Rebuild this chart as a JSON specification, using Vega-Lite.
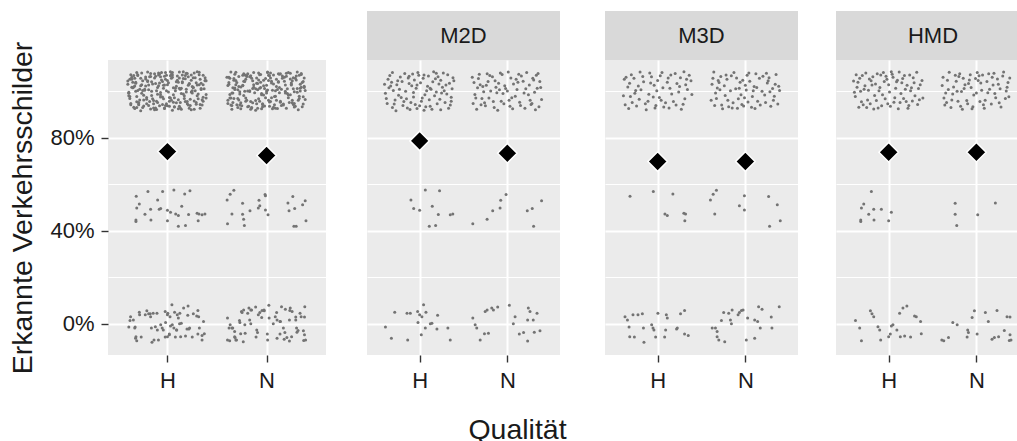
{
  "$schema": "https://vega.github.io/schema/vega-lite/v6.json",
  "background": "white",
  "padding": {"left": 8, "top": 11, "right": 0, "bottom": 0},
  "spacing": 41,
  "config": {
    "font": "Liberation Sans",
    "view": {"stroke": null},
    "concat": {"spacing": 0},
    "axis": {
      "domain": false,
      "tickColor": "#333333",
      "tickSize": 7,
      "tickWidth": 1.4,
      "labelFont": "Liberation Sans",
      "labelFontSize": 22,
      "labelColor": "#1A1A1A",
      "labelPadding": 8,
      "gridColor": "#FFFFFF",
      "gridOpacity": 1,
      "titleFont": "Liberation Sans",
      "titleFontSize": 28.5,
      "titleFontWeight": "normal",
      "titleColor": "#1A1A1A",
      "minExtent": 0
    }
  },
  "datasets": {
    "M2D": [
      {"x":0.64,"y":1.052},{"x":1.17,"y":0.981},{"x":0.88,"y":1.034},{"x":1.33,"y":0.927},{"x":0.72,"y":0.963},{"x":1.05,"y":1.071},{"x":0.95,"y":0.944},{"x":1.26,"y":1.018},{"x":0.61,"y":0.992},{"x":1.39,"y":1.046},
      {"x":0.83,"y":1.077},{"x":1.12,"y":0.936},{"x":0.77,"y":1.009},{"x":1.02,"y":0.958},{"x":1.21,"y":1.063},{"x":0.69,"y":0.931},{"x":0.91,"y":1.024},{"x":1.36,"y":0.975},{"x":0.98,"y":1.081},{"x":1.08,"y":1.003},
      {"x":0.66,"y":1.068},{"x":1.29,"y":0.952},{"x":0.85,"y":0.968},{"x":1.15,"y":1.041},{"x":0.74,"y":1.029},{"x":1.24,"y":0.921},{"x":0.93,"y":0.995},{"x":1.04,"y":1.056},{"x":0.63,"y":0.948},{"x":1.32,"y":1.072},
      {"x":0.81,"y":0.939},{"x":1.19,"y":0.997},{"x":0.97,"y":0.926},{"x":1.1,"y":1.066},{"x":0.7,"y":1.004},{"x":1.37,"y":1.011},{"x":0.87,"y":1.058},{"x":1.23,"y":0.966},{"x":0.79,"y":0.974},{"x":1.01,"y":1.037},
      {"x":1.14,"y":0.923},{"x":0.67,"y":1.023},{"x":1.31,"y":0.989},{"x":0.9,"y":0.952},{"x":1.06,"y":0.985},{"x":0.75,"y":1.046},{"x":1.27,"y":1.079},{"x":0.96,"y":1.013},{"x":1.18,"y":1.054},{"x":0.62,"y":0.969},
      {"x":1.35,"y":0.941},{"x":0.84,"y":1.001},{"x":1.11,"y":0.964},{"x":0.73,"y":0.917},{"x":1.22,"y":1.032},{"x":0.99,"y":1.069},{"x":1.07,"y":0.934},{"x":0.68,"y":1.039},{"x":1.3,"y":1.027},{"x":0.89,"y":0.922},
      {"x":1.16,"y":1.084},{"x":0.78,"y":1.062},{"x":1.25,"y":0.993},{"x":0.94,"y":1.049},{"x":1.03,"y":0.971},{"x":0.65,"y":1.016},{"x":1.38,"y":1.059},{"x":0.82,"y":0.957},{"x":1.13,"y":1.009},{"x":0.76,"y":0.983},
      {"x":1.2,"y":0.947},{"x":0.92,"y":1.075},{"x":1.09,"y":1.022},{"x":0.71,"y":0.946},{"x":1.34,"y":1.035},{"x":0.86,"y":0.928},{"x":1.28,"y":1.003},{"x":1.0,"y":0.938},{"x":0.6,"y":1.031},{"x":1.19,"y":1.078},
      {"x":0.8,"y":1.043},{"x":1.05,"y":0.919},{"x":0.93,"y":0.976},{"x":1.24,"y":1.048},{"x":0.69,"y":1.081},{"x":1.36,"y":0.958},{"x":0.88,"y":1.065},{"x":1.12,"y":1.014},{"x":0.97,"y":1.027},
      {"x":1.63,"y":0.987},{"x":2.18,"y":1.044},{"x":1.85,"y":0.931},{"x":2.33,"y":1.069},{"x":1.72,"y":1.021},{"x":2.02,"y":0.962},{"x":1.94,"y":1.073},{"x":2.27,"y":0.944},{"x":1.67,"y":1.055},{"x":2.11,"y":1.008},
      {"x":1.79,"y":0.972},{"x":2.38,"y":1.017},{"x":1.9,"y":1.035},{"x":2.06,"y":0.925},{"x":1.61,"y":0.948},{"x":2.22,"y":1.081},{"x":1.83,"y":1.063},{"x":2.31,"y":0.996},{"x":1.75,"y":0.938},{"x":1.98,"y":1.012},
      {"x":2.14,"y":0.953},{"x":1.69,"y":1.029},{"x":2.36,"y":0.934},{"x":1.88,"y":0.994},{"x":2.04,"y":1.058},{"x":1.65,"y":0.923},{"x":2.25,"y":1.027},{"x":1.77,"y":1.076},{"x":2.09,"y":0.979},{"x":1.96,"y":0.947},
      {"x":2.3,"y":1.049},{"x":1.71,"y":0.969},{"x":2.16,"y":1.066},{"x":1.86,"y":1.046},{"x":2.01,"y":1.083},{"x":1.62,"y":1.038},{"x":2.39,"y":0.965},{"x":1.81,"y":1.002},{"x":2.2,"y":0.927},{"x":1.93,"y":0.958},
      {"x":2.07,"y":1.032},{"x":1.74,"y":0.951},{"x":2.34,"y":1.014},{"x":1.68,"y":1.074},{"x":2.12,"y":1.039},{"x":1.89,"y":0.919},{"x":2.24,"y":0.986},{"x":1.78,"y":1.042},{"x":2.0,"y":1.002},{"x":1.64,"y":0.971},
      {"x":2.29,"y":1.057},{"x":1.92,"y":1.079},{"x":2.15,"y":0.939},{"x":1.73,"y":0.998},{"x":2.37,"y":1.043},{"x":1.84,"y":0.956},{"x":2.05,"y":0.973},{"x":1.66,"y":1.016},{"x":2.21,"y":1.011},{"x":1.97,"y":1.024},
      {"x":2.32,"y":0.921},{"x":1.8,"y":1.068},{"x":2.1,"y":1.052},{"x":1.7,"y":0.942},{"x":2.26,"y":0.962},{"x":1.87,"y":1.018},{"x":2.03,"y":0.936},{"x":1.6,"y":1.061},{"x":2.19,"y":0.993},{"x":1.95,"y":0.991},
      {"x":2.35,"y":1.077},{"x":1.76,"y":1.026},{"x":2.13,"y":1.074},{"x":1.91,"y":1.007},{"x":2.28,"y":0.948},
      {"x":1.065,"y":0.576},{"x":1.227,"y":0.573},{"x":0.901,"y":0.533},{"x":0.932,"y":0.496},{"x":1.0,"y":0.489},{"x":1.144,"y":0.506},{"x":1.213,"y":0.47},{"x":1.349,"y":0.469},{"x":1.378,"y":0.473},{"x":1.11,"y":0.42},{"x":1.182,"y":0.423},
      {"x":1.606,"y":0.431},{"x":1.769,"y":0.45},{"x":1.833,"y":0.487},{"x":1.917,"y":0.498},{"x":1.924,"y":0.532},{"x":1.985,"y":0.556},{"x":2.227,"y":0.487},{"x":2.284,"y":0.496},{"x":2.39,"y":0.53},{"x":2.299,"y":0.42},
      {"x":0.61,"y":-0.014},{"x":0.678,"y":-0.062},{"x":0.716,"y":0.05},{"x":0.856,"y":0.046},{"x":0.894,"y":0.046},{"x":0.864,"y":-0.07},{"x":0.977,"y":0.053},{"x":1.0,"y":0.039},{"x":1.026,"y":0.031},{"x":1.072,"y":0.05},
      {"x":1.045,"y":0.082},{"x":0.981,"y":0.006},{"x":1.019,"y":-0.047},{"x":1.065,"y":-0.018},{"x":1.122,"y":0.0},{"x":1.14,"y":0.003},{"x":1.205,"y":0.037},{"x":1.197,"y":-0.022},{"x":1.322,"y":-0.018},{"x":1.349,"y":-0.07},
      {"x":1.606,"y":0.025},{"x":1.633,"y":-0.004},{"x":1.651,"y":-0.018},{"x":1.69,"y":-0.07},{"x":1.739,"y":-0.043},{"x":1.784,"y":-0.04},{"x":1.747,"y":0.053},{"x":1.769,"y":0.06},{"x":1.822,"y":0.068},{"x":1.841,"y":0.06},
      {"x":1.89,"y":0.073},{"x":2.023,"y":0.08},{"x":2.088,"y":0.031},{"x":2.068,"y":0.0},{"x":2.136,"y":-0.044},{"x":2.185,"y":-0.037},{"x":2.239,"y":0.068},{"x":2.258,"y":0.053},{"x":2.231,"y":0.017},{"x":2.295,"y":0.017},
      {"x":2.338,"y":0.046},{"x":2.231,"y":-0.074},{"x":2.307,"y":-0.036},{"x":2.372,"y":-0.03}
    ],
    "M3D": [
      {"x":0.63,"y":0.943},{"x":1.12,"y":1.058},{"x":0.81,"y":1.007},{"x":1.31,"y":0.968},{"x":0.7,"y":1.072},{"x":0.97,"y":0.929},{"x":1.22,"y":1.034},{"x":0.89,"y":0.958},{"x":1.05,"y":1.081},{"x":0.66,"y":1.019},
      {"x":1.38,"y":1.046},{"x":0.76,"y":0.937},{"x":1.16,"y":0.989},{"x":0.93,"y":1.063},{"x":1.27,"y":0.923},{"x":0.84,"y":1.041},{"x":1.02,"y":0.974},{"x":0.61,"y":0.981},{"x":1.34,"y":1.008},{"x":0.73,"y":1.056},
      {"x":1.09,"y":0.951},{"x":0.96,"y":1.026},{"x":1.2,"y":1.077},{"x":0.79,"y":0.966},{"x":1.29,"y":0.945},{"x":0.68,"y":1.035},{"x":1.14,"y":1.013},{"x":0.87,"y":0.921},{"x":1.0,"y":1.047},{"x":1.36,"y":1.069},
      {"x":0.74,"y":0.992},{"x":1.07,"y":0.933},{"x":0.91,"y":1.079},{"x":1.24,"y":0.997},{"x":0.64,"y":1.061},{"x":1.18,"y":0.957},{"x":0.83,"y":1.064},{"x":1.32,"y":1.028},{"x":0.99,"y":1.003},{"x":0.71,"y":0.952},
      {"x":1.11,"y":1.039},{"x":0.95,"y":0.976},{"x":1.26,"y":1.059},{"x":0.78,"y":1.023},{"x":1.04,"y":0.962},{"x":0.62,"y":1.052},{"x":1.39,"y":0.987},{"x":0.86,"y":0.947},{"x":1.15,"y":1.071},{"x":0.92,"y":1.036},
      {"x":1.21,"y":0.941},{"x":0.69,"y":0.978},{"x":1.06,"y":1.016},{"x":1.33,"y":1.052},{"x":0.8,"y":1.083},{"x":0.98,"y":0.939},{"x":1.25,"y":1.021},{"x":0.75,"y":1.004},{"x":1.13,"y":0.928},{"x":0.9,"y":0.988},
      {"x":1.3,"y":1.084},{"x":0.67,"y":0.926},{"x":1.03,"y":1.067},
      {"x":1.62,"y":1.031},{"x":2.14,"y":0.958},{"x":1.84,"y":1.067},{"x":2.31,"y":1.012},{"x":1.73,"y":0.941},{"x":2.05,"y":1.044},{"x":1.95,"y":0.986},{"x":2.24,"y":1.078},{"x":1.67,"y":0.969},{"x":2.1,"y":1.021},
      {"x":1.79,"y":1.052},{"x":2.37,"y":0.946},{"x":1.91,"y":0.927},{"x":2.02,"y":1.069},{"x":1.64,"y":1.083},{"x":2.19,"y":1.001},{"x":1.86,"y":0.951},{"x":2.29,"y":0.936},{"x":1.76,"y":1.024},{"x":1.99,"y":0.973},
      {"x":2.16,"y":1.057},{"x":1.69,"y":1.047},{"x":2.34,"y":1.031},{"x":1.89,"y":1.011},{"x":2.07,"y":0.932},{"x":1.61,"y":0.962},{"x":2.22,"y":0.984},{"x":1.81,"y":0.934},{"x":2.12,"y":1.076},{"x":1.94,"y":1.039},
      {"x":2.27,"y":1.059},{"x":1.71,"y":1.007},{"x":2.03,"y":0.954},{"x":1.87,"y":1.081},{"x":2.39,"y":1.004},{"x":1.66,"y":0.993},{"x":2.17,"y":0.941},{"x":1.78,"y":1.071},{"x":2.09,"y":1.003},{"x":1.97,"y":1.048},
      {"x":2.32,"y":0.962},{"x":1.74,"y":0.925},{"x":2.25,"y":1.036},{"x":1.92,"y":0.968},{"x":2.0,"y":1.026},{"x":1.63,"y":1.056},{"x":2.2,"y":1.065},{"x":1.83,"y":1.003},{"x":2.35,"y":1.073},{"x":1.7,"y":1.038},
      {"x":2.08,"y":0.978},{"x":1.96,"y":0.944},{"x":2.28,"y":0.998},{"x":1.8,"y":0.962},{"x":2.13,"y":1.017},{"x":1.65,"y":0.939},{"x":2.38,"y":1.022},{"x":1.9,"y":1.058},{"x":2.04,"y":1.079},{"x":1.77,"y":0.982},
      {"x":2.23,"y":0.952},{"x":1.93,"y":1.014},{"x":2.11,"y":0.926},{"x":1.68,"y":1.015},{"x":2.33,"y":0.979},{"x":1.85,"y":0.929},{"x":2.01,"y":1.006},{"x":1.72,"y":1.064},{"x":2.26,"y":1.046},{"x":1.98,"y":0.937},
      {"x":0.685,"y":0.549},{"x":0.951,"y":0.569},{"x":1.174,"y":0.559},{"x":1.083,"y":0.473},{"x":1.11,"y":0.466},{"x":1.299,"y":0.476},{"x":1.318,"y":0.473},{"x":1.31,"y":0.444},
      {"x":1.602,"y":0.533},{"x":1.633,"y":0.558},{"x":1.67,"y":0.575},{"x":1.651,"y":0.473},{"x":1.989,"y":0.551},{"x":1.932,"y":0.508},{"x":1.989,"y":0.49},{"x":2.265,"y":0.548},{"x":2.364,"y":0.512},{"x":2.276,"y":0.42},{"x":2.398,"y":0.443},
      {"x":0.628,"y":0.031},{"x":0.656,"y":0.017},{"x":0.719,"y":0.039},{"x":0.776,"y":0.039},{"x":0.826,"y":0.043},{"x":0.674,"y":-0.014},{"x":0.682,"y":-0.055},{"x":0.735,"y":-0.057},{"x":0.838,"y":-0.018},{"x":0.844,"y":-0.079},
      {"x":0.932,"y":-0.004},{"x":0.947,"y":-0.018},{"x":0.958,"y":-0.026},{"x":0.977,"y":-0.057},{"x":1.003,"y":0.046},{"x":1.099,"y":0.039},{"x":1.11,"y":0.025},{"x":1.091,"y":-0.026},{"x":1.08,"y":-0.057},{"x":1.216,"y":-0.022},
      {"x":1.261,"y":0.043},{"x":1.307,"y":0.057},{"x":1.224,"y":-0.018},{"x":1.307,"y":-0.044},{"x":1.349,"y":-0.05},
      {"x":1.622,"y":-0.018},{"x":1.659,"y":-0.018},{"x":1.678,"y":-0.033},{"x":1.678,"y":-0.055},{"x":1.697,"y":-0.069},{"x":1.765,"y":-0.077},{"x":1.727,"y":0.014},{"x":1.753,"y":0.049},{"x":1.83,"y":0.017},{"x":1.841,"y":0.0},
      {"x":1.81,"y":0.046},{"x":1.849,"y":0.06},{"x":1.917,"y":0.039},{"x":1.932,"y":0.049},{"x":1.955,"y":0.057},{"x":1.974,"y":0.06},{"x":2.011,"y":-0.069},{"x":2.026,"y":0.025},{"x":2.106,"y":0.017},{"x":2.14,"y":0.01},
      {"x":2.17,"y":-0.018},{"x":2.106,"y":-0.062},{"x":2.151,"y":0.074},{"x":2.19,"y":0.063},{"x":2.295,"y":0.029},{"x":2.303,"y":-0.018},{"x":2.386,"y":0.074}
    ],
    "HMD": [
      {"x":0.64,"y":1.018},{"x":1.13,"y":0.952},{"x":0.82,"y":1.063},{"x":1.29,"y":1.037},{"x":0.71,"y":0.943},{"x":1.04,"y":1.074},{"x":0.93,"y":0.986},{"x":1.22,"y":0.927},{"x":0.67,"y":1.056},{"x":1.35,"y":0.964},
      {"x":0.77,"y":1.005},{"x":1.09,"y":1.041},{"x":0.88,"y":0.929},{"x":1.18,"y":1.068},{"x":0.62,"y":0.978},{"x":1.25,"y":1.003},{"x":0.98,"y":1.052},{"x":0.74,"y":1.079},{"x":1.14,"y":0.991},{"x":0.85,"y":1.032},
      {"x":1.32,"y":1.082},{"x":0.69,"y":0.955},{"x":1.02,"y":0.936},{"x":0.91,"y":1.071},{"x":1.21,"y":1.026},{"x":0.79,"y":0.947},{"x":1.38,"y":1.047},{"x":0.96,"y":0.968},{"x":1.08,"y":1.014},{"x":0.65,"y":1.039},
      {"x":1.27,"y":0.959},{"x":0.84,"y":0.982},{"x":1.16,"y":1.055},{"x":0.73,"y":1.024},{"x":1.01,"y":0.997},{"x":0.94,"y":1.081},{"x":1.23,"y":0.939},{"x":0.61,"y":0.996},{"x":1.34,"y":1.012},{"x":0.8,"y":1.046},
      {"x":1.11,"y":0.925},{"x":0.87,"y":1.076},{"x":1.19,"y":1.009},{"x":0.7,"y":1.068},{"x":1.05,"y":1.061},{"x":0.99,"y":0.947},{"x":1.3,"y":0.981},{"x":0.76,"y":0.963},{"x":1.15,"y":1.037},{"x":0.9,"y":1.017},
      {"x":1.24,"y":1.071},{"x":0.66,"y":0.932},{"x":1.36,"y":1.028},{"x":0.83,"y":0.924},{"x":1.07,"y":0.973},{"x":0.95,"y":1.043},{"x":1.2,"y":0.957},{"x":0.72,"y":1.009},{"x":1.12,"y":1.083},{"x":0.86,"y":0.961},
      {"x":1.28,"y":1.059},{"x":0.63,"y":1.072},{"x":1.0,"y":1.029},{"x":0.92,"y":0.938},{"x":1.17,"y":0.969},{"x":0.78,"y":1.053},{"x":1.33,"y":0.944},{"x":0.68,"y":1.001},{"x":1.06,"y":0.953},{"x":0.97,"y":1.065},
      {"x":1.26,"y":1.016},{"x":0.75,"y":0.931},{"x":1.1,"y":1.048},{"x":0.89,"y":1.003},{"x":1.39,"y":0.972},{"x":0.81,"y":1.027},{"x":1.03,"y":1.084},{"x":0.6,"y":1.045},
      {"x":1.63,"y":0.972},{"x":2.12,"y":1.043},{"x":1.82,"y":0.936},{"x":2.3,"y":1.066},{"x":1.74,"y":1.019},{"x":2.04,"y":0.956},{"x":1.93,"y":1.072},{"x":2.21,"y":0.991},{"x":1.67,"y":1.048},{"x":2.09,"y":0.927},
      {"x":1.78,"y":1.001},{"x":2.36,"y":1.038},{"x":1.89,"y":0.961},{"x":2.01,"y":1.081},{"x":1.61,"y":1.025},{"x":2.17,"y":0.946},{"x":1.85,"y":1.057},{"x":2.27,"y":1.011},{"x":1.71,"y":0.931},{"x":1.97,"y":0.984},
      {"x":2.14,"y":1.076},{"x":1.66,"y":0.952},{"x":2.33,"y":0.969},{"x":1.91,"y":1.034},{"x":2.06,"y":1.005},{"x":1.76,"y":1.069},{"x":2.24,"y":1.053},{"x":1.83,"y":0.999},{"x":2.1,"y":0.962},{"x":1.95,"y":0.925},
      {"x":2.38,"y":1.058},{"x":1.69,"y":1.082},{"x":2.19,"y":1.027},{"x":1.87,"y":1.028},{"x":2.02,"y":1.047},{"x":1.64,"y":0.941},{"x":2.28,"y":0.933},{"x":1.8,"y":1.064},{"x":2.15,"y":1.009},{"x":1.99,"y":1.055},
      {"x":2.34,"y":1.002},{"x":1.73,"y":0.989},{"x":2.07,"y":1.071},{"x":1.9,"y":0.947},{"x":2.22,"y":0.973},{"x":1.62,"y":1.061},{"x":2.31,"y":1.083},{"x":1.84,"y":0.923},{"x":2.0,"y":0.993},{"x":1.77,"y":1.044},
      {"x":2.13,"y":0.994},{"x":1.94,"y":1.017},{"x":2.26,"y":0.951},{"x":1.68,"y":1.008},{"x":2.05,"y":1.036},{"x":1.81,"y":1.076},{"x":2.37,"y":0.977},{"x":1.92,"y":1.049},{"x":2.18,"y":1.061},{"x":1.72,"y":0.963},
      {"x":2.08,"y":0.943},{"x":1.86,"y":1.012},{"x":2.25,"y":1.031},{"x":1.65,"y":0.993},{"x":2.03,"y":1.067},{"x":1.96,"y":0.934},{"x":2.35,"y":1.018},{"x":1.79,"y":0.958},{"x":2.2,"y":1.078},
      {"x":0.803,"y":0.569},{"x":0.716,"y":0.516},{"x":0.69,"y":0.498},{"x":0.773,"y":0.472},{"x":0.83,"y":0.493},{"x":0.917,"y":0.493},{"x":1.031,"y":0.48},{"x":0.682,"y":0.447},{"x":0.682,"y":0.44},{"x":0.833,"y":0.447},{"x":1.0,"y":0.443},
      {"x":1.758,"y":0.519},{"x":1.758,"y":0.472},{"x":1.776,"y":0.423},{"x":2.015,"y":0.469},{"x":2.216,"y":0.52},
      {"x":0.622,"y":0.014},{"x":0.67,"y":-0.018},{"x":0.69,"y":-0.073},{"x":0.792,"y":0.056},{"x":0.81,"y":0.043},{"x":0.83,"y":0.031},{"x":0.878,"y":-0.012},{"x":0.898,"y":-0.026},{"x":0.909,"y":-0.069},{"x":1.0,"y":-0.055},
      {"x":1.019,"y":-0.044},{"x":1.031,"y":-0.009},{"x":1.049,"y":-0.004},{"x":1.094,"y":-0.026},{"x":1.125,"y":0.046},{"x":1.163,"y":0.068},{"x":1.208,"y":0.077},{"x":1.133,"y":-0.055},{"x":1.182,"y":-0.052},{"x":1.25,"y":-0.057},
      {"x":1.295,"y":0.034},{"x":1.315,"y":0.031},{"x":1.364,"y":0.01},{"x":1.372,"y":-0.043},
      {"x":1.606,"y":-0.069},{"x":1.628,"y":-0.073},{"x":1.682,"y":-0.059},{"x":1.731,"y":0.006},{"x":1.781,"y":-0.004},{"x":1.901,"y":-0.026},{"x":1.909,"y":-0.037},{"x":1.894,"y":-0.057},{"x":2.008,"y":-0.044},{"x":1.951,"y":0.027},
      {"x":1.977,"y":0.056},{"x":2.102,"y":0.049},{"x":2.136,"y":0.01},{"x":2.178,"y":-0.066},{"x":2.205,"y":-0.059},{"x":2.253,"y":-0.055},{"x":2.235,"y":0.057},{"x":2.318,"y":-0.029},{"x":2.349,"y":0.031},{"x":2.383,"y":0.029},
      {"x":2.383,"y":-0.047},{"x":2.375,"y":-0.072},{"x":2.394,"y":-0.069}
    ]
  },
  "hconcat": [
    {
      "bounds": "flush",
      "vconcat": [
        {
          "width": 218, "height": 49,
          "data": {"values": [{"label": ""}]},
          "mark": {"type": "text"},
          "encoding": {"text": {"field": "label"}}
        },
        {
          "width": 218, "height": 295,
          "view": {"fill": "#EBEBEB", "stroke": null},
          "encoding": {
            "x": {"field": "x", "type": "quantitative",
              "scale": {"domain": [0.4, 2.6], "nice": false, "zero": false},
              "axis": {"values": [1, 2], "labelExpr": "datum.value == 1 ? 'H' : 'N'", "grid": true, "gridWidth": 2, "title": null, "labelFlush": false}},
            "y": {"field": "y", "type": "quantitative",
              "scale": {"domain": [-0.134, 1.135], "nice": false, "zero": false},
              "axis": {"values": [0, 0.2, 0.4, 0.6, 0.8, 1], "format": ".0%",
                "labelExpr": "(datum.value == 0.2 || datum.value == 0.6 || datum.value == 1) ? '' : datum.label",
                "tickOpacity": {"condition": {"test": "datum.value == 0.2 || datum.value == 0.6 || datum.value == 1", "value": 0}, "value": 1},
                "gridWidth": {"condition": {"test": "datum.value == 0.2 || datum.value == 0.6 || datum.value == 1", "value": 1}, "value": 2},
                "grid": true, "labelPadding": 7, "title": "Erkannte Verkehrsschilder", "titlePadding": 12}}
          },
          "layer": [
            {"data": {"name": "M2D"}, "mark": {"type": "circle", "size": 9, "color": "#737373", "opacity": 1}},
            {"data": {"name": "M3D"}, "mark": {"type": "circle", "size": 9, "color": "#737373", "opacity": 1}},
            {"data": {"name": "HMD"}, "mark": {"type": "circle", "size": 9, "color": "#737373", "opacity": 1}},
            {"data": {"values": [{"x": 1, "y": 0.741}, {"x": 2, "y": 0.724}]},
              "mark": {"type": "point", "shape": "diamond", "filled": true, "size": 380, "fill": "black", "stroke": "white", "strokeWidth": 1.5, "opacity": 1}}
          ]
        }
      ]
    },
    {
      "spacing": 38,
      "hconcat": [
        {
          "vconcat": [
            {
              "width": 193, "height": 49,
              "view": {"fill": "#D9D9D9", "stroke": null},
              "data": {"values": [{"label": "M2D"}]},
              "mark": {"type": "text", "fontSize": 22, "color": "#1A1A1A", "font": "Liberation Sans", "baseline": "middle"},
              "encoding": {"text": {"field": "label"}}
            },
            {
              "width": 193, "height": 295,
              "view": {"fill": "#EBEBEB", "stroke": null},
              "encoding": {
                "x": {"field": "x", "type": "quantitative",
                  "scale": {"domain": [0.4, 2.6], "nice": false, "zero": false},
                  "axis": {"values": [1, 2], "labelExpr": "datum.value == 1 ? 'H' : 'N'", "grid": true, "gridWidth": 2, "labelFlush": false,
                    "title": "Qualität", "titleX": 150, "titleY": 83, "titleBaseline": "alphabetic", "titleAlign": "center"}},
                "y": {"field": "y", "type": "quantitative",
                  "scale": {"domain": [-0.134, 1.135], "nice": false, "zero": false},
                  "axis": {"values": [0, 0.2, 0.4, 0.6, 0.8, 1], "labels": false, "ticks": false, "title": null, "grid": true,
                    "gridWidth": {"condition": {"test": "datum.value == 0.2 || datum.value == 0.6 || datum.value == 1", "value": 1}, "value": 2}}}
              },
              "layer": [
                {"data": {"name": "M2D"}, "mark": {"type": "circle", "size": 9, "color": "#737373", "opacity": 1}},
                {"data": {"values": [{"x": 1, "y": 0.787}, {"x": 2, "y": 0.734}]},
                  "mark": {"type": "point", "shape": "diamond", "filled": true, "size": 380, "fill": "black", "stroke": "white", "strokeWidth": 1.5, "opacity": 1}}
              ]
            }
          ]
        },
        {
          "vconcat": [
            {
              "width": 193, "height": 49,
              "view": {"fill": "#D9D9D9", "stroke": null},
              "data": {"values": [{"label": "M3D"}]},
              "mark": {"type": "text", "fontSize": 22, "color": "#1A1A1A", "font": "Liberation Sans", "baseline": "middle"},
              "encoding": {"text": {"field": "label"}}
            },
            {
              "width": 193, "height": 295,
              "view": {"fill": "#EBEBEB", "stroke": null},
              "encoding": {
                "x": {"field": "x", "type": "quantitative",
                  "scale": {"domain": [0.4, 2.6], "nice": false, "zero": false},
                  "axis": {"values": [1, 2], "labelExpr": "datum.value == 1 ? 'H' : 'N'", "grid": true, "gridWidth": 2, "title": null, "labelFlush": false}},
                "y": {"field": "y", "type": "quantitative",
                  "scale": {"domain": [-0.134, 1.135], "nice": false, "zero": false},
                  "axis": {"values": [0, 0.2, 0.4, 0.6, 0.8, 1], "labels": false, "ticks": false, "title": null, "grid": true,
                    "gridWidth": {"condition": {"test": "datum.value == 0.2 || datum.value == 0.6 || datum.value == 1", "value": 1}, "value": 2}}}
              },
              "layer": [
                {"data": {"name": "M3D"}, "mark": {"type": "circle", "size": 9, "color": "#737373", "opacity": 1}},
                {"data": {"values": [{"x": 1, "y": 0.698}, {"x": 2, "y": 0.698}]},
                  "mark": {"type": "point", "shape": "diamond", "filled": true, "size": 380, "fill": "black", "stroke": "white", "strokeWidth": 1.5, "opacity": 1}}
              ]
            }
          ]
        },
        {
          "vconcat": [
            {
              "width": 187, "height": 49,
              "view": {"fill": "#D9D9D9", "stroke": null},
              "data": {"values": [{"label": "HMD"}]},
              "mark": {"type": "text", "fontSize": 22, "color": "#1A1A1A", "font": "Liberation Sans", "baseline": "middle", "dx": 3.5},
              "encoding": {"text": {"field": "label"}}
            },
            {
              "width": 187, "height": 295,
              "view": {"fill": "#EBEBEB", "stroke": null},
              "encoding": {
                "x": {"field": "x", "type": "quantitative",
                  "scale": {"domain": [0.4, 2.531], "nice": false, "zero": false},
                  "axis": {"values": [1, 2], "labelExpr": "datum.value == 1 ? 'H' : 'N'", "grid": true, "gridWidth": 2, "title": null, "labelFlush": false}},
                "y": {"field": "y", "type": "quantitative",
                  "scale": {"domain": [-0.134, 1.135], "nice": false, "zero": false},
                  "axis": {"values": [0, 0.2, 0.4, 0.6, 0.8, 1], "labels": false, "ticks": false, "title": null, "grid": true,
                    "gridWidth": {"condition": {"test": "datum.value == 0.2 || datum.value == 0.6 || datum.value == 1", "value": 1}, "value": 2}}}
              },
              "layer": [
                {"data": {"name": "HMD"}, "mark": {"type": "circle", "size": 9, "color": "#737373", "opacity": 1}},
                {"data": {"values": [{"x": 1, "y": 0.738}, {"x": 2, "y": 0.738}]},
                  "mark": {"type": "point", "shape": "diamond", "filled": true, "size": 380, "fill": "black", "stroke": "white", "strokeWidth": 1.5, "opacity": 1}}
              ]
            }
          ]
        }
      ]
    }
  ]
}
